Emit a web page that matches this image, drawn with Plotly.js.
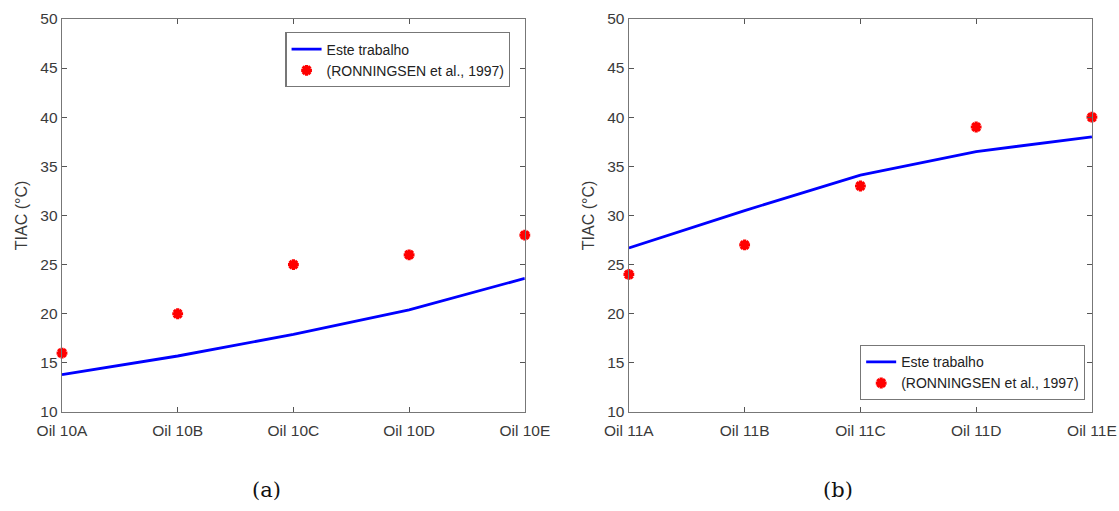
<!DOCTYPE html>
<html><head><meta charset="utf-8">
<script src="https://cdn.plot.ly/plotly-3.0.1.min.js"></script>
<style>html,body{margin:0;padding:0;background:#fff}#c{width:1119px;height:511px}</style>
</head><body><div id="c"></div>
<script>
const catsA = ['Oil 10A','Oil 10B','Oil 10C','Oil 10D','Oil 10E'];
const modelA = [13.8, 15.7, 17.9, 20.4, 23.6];
const expA = [16, 20, 25, 26, 28];
const catsB = ['Oil 11A','Oil 11B','Oil 11C','Oil 11D','Oil 11E'];
const modelB = [26.7, 30.5, 34.1, 36.5, 38.0];
const expB = [24, 27, 33, 39, 40];
const nameModel = 'Este trabalho';
const nameExp = '(RONNINGSEN et al., 1997)';
const yTitle = 'TIAC (°C)';

const lineStyle = {color:'#0000ff', width:2.8};
const markStyle = {color:'#ff0000', symbol:'asterisk-open', size:9, line:{color:'#ff0000', width:3.2}};
const traces = [
  {x:catsA, y:modelA, mode:'lines', name:nameModel, line:lineStyle, xaxis:'x', yaxis:'y', legend:'legend', cliponaxis:false},
  {x:catsA, y:expA, mode:'markers', name:nameExp, marker:markStyle, xaxis:'x', yaxis:'y', legend:'legend', cliponaxis:false},
  {x:catsB, y:modelB, mode:'lines', name:nameModel, line:lineStyle, xaxis:'x2', yaxis:'y2', legend:'legend2', cliponaxis:false},
  {x:catsB, y:expB, mode:'markers', name:nameExp, marker:markStyle, xaxis:'x2', yaxis:'y2', legend:'legend2', cliponaxis:false}
];
const axFont = {family:'Liberation Sans, Arial, sans-serif', size:15.5, color:'#3a3a3a'};
function xax(domain, anchor){
  return {domain:domain, anchor:anchor, type:'category', range:[0,4], showline:true, mirror:'ticks',
    linecolor:'#777', linewidth:1.3, ticks:'inside', ticklen:5, tickcolor:'#555', showgrid:false, zeroline:false,
    tickfont:axFont, ticklabelstandoff:4, fixedrange:true};
}
function yax(anchor){
  return {domain:[0.1937,0.963], anchor:anchor, range:[10,50], dtick:5, showline:true, mirror:'ticks',
    linecolor:'#777', linewidth:1.3, ticks:'inside', ticklen:5, tickcolor:'#555', showgrid:false, zeroline:false,
    tickfont:axFont, title:{text:yTitle, font:{family:'Liberation Sans, Arial, sans-serif', size:16, color:'#3a3a3a'}, standoff:8}};
}
const legBase = {bgcolor:'#fff', bordercolor:'#777', borderwidth:1.3, font:{family:'Liberation Sans, Arial, sans-serif', size:14, color:'#222'}, tracegroupgap:0, itemwidth:30};
const layout = {
  width:1119, height:511, margin:{l:0,r:0,t:0,b:0}, paper_bgcolor:'#fff', plot_bgcolor:'#fff',
  showlegend:true,
  xaxis: xax([0.0554,0.469],'y'),
  yaxis: yax('x'),
  xaxis2: xax([0.562,0.9758],'y2'),
  yaxis2: yax('x2'),
  legend: Object.assign({x:0.456, y:0.937, xanchor:'right', yanchor:'top'}, legBase),
  legend2: Object.assign({x:0.9695, y:0.325, xanchor:'right', yanchor:'top'}, legBase),
  annotations:[
    {text:'(a)', x:0.2386, y:0.041, xanchor:'center', yanchor:'middle', xref:'paper', yref:'paper', showarrow:false, font:{family:'DejaVu Serif, serif', size:21, color:'#111'}},
    {text:'(b)', x:0.749, y:0.041, xanchor:'center', yanchor:'middle', xref:'paper', yref:'paper', showarrow:false, font:{family:'DejaVu Serif, serif', size:21, color:'#111'}}
  ]
};
Plotly.newPlot('c', traces, layout, {staticPlot:true, displayModeBar:false});
</script></body></html>
